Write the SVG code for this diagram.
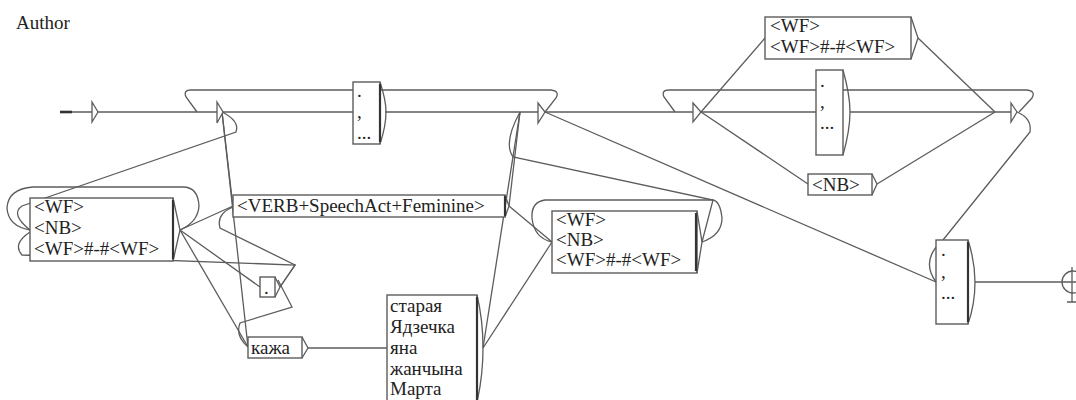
<svg xmlns="http://www.w3.org/2000/svg" width="1076" height="400" viewBox="0 0 1076 400">
<style>
text{font-family:"Liberation Serif","DejaVu Serif",serif;font-size:19px;fill:#222}
.e{fill:none;stroke:#5c5c5c;stroke-width:1.3}
.b{fill:#fff;stroke:#5c5c5c;stroke-width:1.4}
.o{fill:none;stroke:#5c5c5c;stroke-width:1.3}
.k{stroke:#333;stroke-width:2.2}
.t{fill:#fff;stroke:#5c5c5c;stroke-width:1.3}
</style>
<rect width="1076" height="400" fill="#fff"/>
<text x="16" y="29">Author</text>
<g id="connectors">
<path class="e" d="M72,112H92M97,112H217M222,112H353M385,112H538M545,112H693M701,112H816M850,112H1011"/>
<path class="e" d="M197,112L186,97Q183,90 191,90L551,90Q560,91 556,98L545,112"/>
<path class="e" d="M675,112L664,97Q661,90 669,90L1027,90Q1036,91 1032,98L1019,112"/>
<path class="e" d="M222,112L233,207"/>
<path class="e" d="M222,112L248,347"/>
<path class="e" d="M222,112Q240,121 236,132L22,206Q10,214 30,230"/>
<path class="e" d="M180,230Q198,222 199,206Q198,187 183,187L33,187Q8,189 7,208Q8,226 30,230"/>
<path class="e" d="M180,230L233,206"/>
<path class="e" d="M180,230L260,287"/>
<path class="e" d="M180,230L248,347"/>
<path class="e" d="M280,287L295,265L220,228Q216,214 233,207"/>
<path class="e" d="M280,287L295,265L22,255Q12,244 30,232"/>
<path class="e" d="M278,280L292,307L240,323Q235,336 248,347"/>
<path class="e" d="M308,348H387"/>
<path class="e" d="M483,348L520,112"/>
<path class="e" d="M483,348L552,242"/>
<path class="e" d="M509,206L520,112"/>
<path class="e" d="M509,206L552,242"/>
<path class="e" d="M702,242Q722,235 722,218Q720,200 712,200L545,200Q531,202 532,218Q534,238 552,242"/>
<path class="e" d="M702,242L713,200L513,157Q503,143 520,112"/>
<path class="e" d="M545,112L936,282"/>
<path class="e" d="M701,112L765,38"/>
<path class="e" d="M701,112L808,184"/>
<path class="e" d="M918,38L995,112"/>
<path class="e" d="M877,184L995,112"/>
<path class="e" d="M1017,112Q1032,118 1030,132L943,240Q920,260 936,282"/>
<path class="e" d="M975,282H1062"/>
<path d="M60,112H72" stroke="#333" stroke-width="2.6"/>
</g>
<g id="n1"><polygon class="t" points="92,102 98,112 92,122"/></g>
<g id="n2"><polygon class="t" points="217,102 223,112 217,123"/></g>
<g id="n3"><polygon class="t" points="538,103 545,112 538,123"/></g>
<g id="n4"><polygon class="t" points="693,103 701,112 693,122"/></g>
<g id="n5"><polygon class="t" points="1011,103 1017,112 1011,122"/></g>
<g id="dots1">
<rect class="b" x="353" y="82" width="27" height="62"/>
<path class="o" d="M380,82Q386,100 386,112Q386,126 380,144"/>
<path class="k" d="M380,84V142"/>
<text x="357" y="97">.</text><text x="357" y="118">,</text><text x="357" y="139">...</text>
</g>
<g id="wf1">
<rect class="b" x="30" y="198" width="143" height="63"/>
<path class="o" d="M173,198L180,230L173,261"/>
<path class="k" d="M173,200V259"/>
<text x="34" y="213">&lt;WF&gt;</text><text x="34" y="234">&lt;NB&gt;</text><text x="34" y="255">&lt;WF&gt;#-#&lt;WF&gt;</text>
</g>
<g id="verb">
<rect class="b" x="233" y="195" width="272" height="22"/>
<path class="o" d="M505,195L509,206L505,217"/>
<path class="k" d="M505,196V216"/>
<text x="237" y="212">&lt;VERB+SpeechAct+Feminine&gt;</text>
</g>
<g id="dot">
<rect class="b" x="260" y="277" width="15" height="20"/>
<path class="o" d="M275,277L280,287L275,297"/>
<text x="264" y="294">.</text>
</g>
<g id="kazha">
<rect class="b" x="248" y="337" width="54" height="21"/>
<path class="o" d="M302,337L308,348L302,358"/>
<text x="251" y="354">кажа</text>
</g>
<g id="list">
<rect class="b" x="387" y="295" width="90" height="107"/>
<path class="o" d="M477,295Q483,320 483,348Q483,376 477,402"/>
<path class="k" d="M477,297V400"/>
<text x="390" y="312">старая</text><text x="390" y="333">Ядзечка</text><text x="390" y="354">яна</text><text x="390" y="375">жанчына</text><text x="390" y="395">Марта</text>
</g>
<g id="wf2">
<rect class="b" x="552" y="211" width="145" height="62"/>
<path class="o" d="M697,211L702,242L697,273"/>
<path class="k" d="M696,213V271"/>
<text x="556" y="226">&lt;WF&gt;</text><text x="556" y="246">&lt;NB&gt;</text><text x="556" y="266">&lt;WF&gt;#-#&lt;WF&gt;</text>
</g>
<g id="wftop">
<rect class="b" x="765" y="17" width="146" height="42"/>
<path class="o" d="M911,17L918,38L911,59"/>
<text x="770" y="32">&lt;WF&gt;</text><text x="770" y="53">&lt;WF&gt;#-#&lt;WF&gt;</text>
</g>
<g id="dots2">
<rect class="b" x="816" y="70" width="27" height="85"/>
<path class="o" d="M843,70Q850,95 850,112Q850,130 843,155"/>
<text x="820" y="87">.</text><text x="820" y="108">,</text><text x="820" y="129">...</text>
</g>
<g id="nb">
<rect class="b" x="808" y="174" width="64" height="21"/>
<path class="o" d="M872,174L877,184L872,195"/>
<text x="812" y="191">&lt;NB&gt;</text>
</g>
<g id="dots3">
<rect class="b" x="936" y="240" width="32" height="84"/>
<path class="o" d="M968,240Q975,262 975,282Q975,304 968,324"/>
<path class="k" d="M968,242V322"/>
<text x="941" y="256">.</text><text x="941" y="278">,</text><text x="941" y="299">...</text>
</g>
<g id="final">
<circle cx="1073" cy="282" r="11" fill="#fff" stroke="#5c5c5c" stroke-width="1.3"/>
<path class="e" d="M1062,282H1076M1072,267V302M1067,302H1076"/>
</g>
</svg>
